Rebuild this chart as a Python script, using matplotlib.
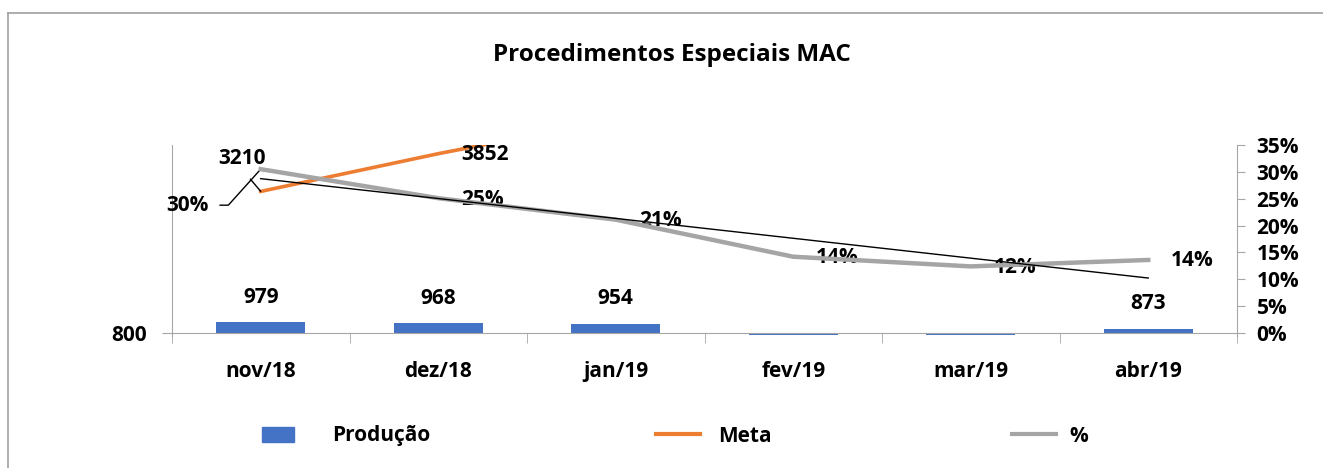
import numpy as np
import matplotlib
matplotlib.use("Agg")
import matplotlib.pyplot as plt
from matplotlib.patches import Patch
from matplotlib.lines import Line2D

plt.rcParams['font.family'] = ['Open Sans', 'DejaVu Sans']
plt.rcParams['font.weight'] = 'bold'

meses = ["nov/18", "dez/18", "jan/19", "fev/19", "mar/19", "abr/19"]
producao = [979, 968, 954, 760, 760, 873]
producao_rotulo = [True, True, True, False, False, True]
meta = [3210, 3852, 4440]
pct = [0.305, 0.251, 0.211, 0.142, 0.124, 0.136]

azul = "#4472C4"
laranja = "#ED7D31"
cinza = "#A5A5A5"
eixo = "#A6A6A6"
fs = 15

W, H = 1323, 468
fig = plt.figure(figsize=(W / 100, H / 100), dpi=100)

# area do grafico em pixels
x0, x1 = 172, 1237
y_top, y_base, y_bot = 145, 333, 336
ax = fig.add_axes([x0 / W, 1 - y_bot / H, (x1 - x0) / W, (y_bot - y_top) / H])
ax2 = ax.twinx()

# escalas: 800 e 0% na linha de base
esq_min, esq_max = 800, 4000
k1 = (esq_max - esq_min) / (y_base - y_top)
ax.set_ylim(esq_min - (y_bot - y_base) * k1, esq_max)
dir_max = 0.35
k2 = dir_max / (y_base - y_top)
ax2.set_ylim(-(y_bot - y_base) * k2, dir_max)

x = np.arange(len(meses))
ax.set_xlim(-0.5, len(meses) - 0.5)

ax.bar(x, np.array(producao) - esq_min, bottom=esq_min, width=0.5, color=azul, zorder=2)
for xi, v, show in zip(x, producao, producao_rotulo):
    if show:
        ax.annotate(str(v), (xi, v), xytext=(0, 25), textcoords='offset pixels',
                    ha='center', va='center', fontsize=fs, fontweight='bold')

ax.plot(x[:len(meta)], meta, color=laranja, lw=2.6, zorder=3)

ax2.plot(x, pct, color=cinza, lw=3.2, zorder=4)
coef = np.polyfit(x, pct, 1)
ax2.plot(x, np.polyval(coef, x), color='black', lw=1, zorder=5)

# rotulos da meta
ax.annotate(str(meta[0]), (x[0], meta[0]), xytext=(-19, 33), textcoords='offset pixels',
            ha='center', va='center', fontsize=fs, fontweight='bold',
            arrowprops=dict(arrowstyle='-', color='black', lw=1, relpos=(0.5, 0),
                            shrinkA=7, shrinkB=0))
ax.annotate(str(meta[1]), (x[1], meta[1]), xytext=(23, -1), textcoords='offset pixels',
            ha='left', va='center', fontsize=fs, fontweight='bold')

# rotulos do %
ax2.annotate(f"{pct[0]*100:.0f}%", (x[0], pct[0]), xytext=(-52, -36), textcoords='offset pixels',
             ha='right', va='center', fontsize=fs, fontweight='bold',
             arrowprops=dict(arrowstyle='-', color='black', lw=1,
                             connectionstyle='angle,angleA=0,angleB=48,rad=0',
                             shrinkA=6, shrinkB=0))
for xi, p in list(zip(x, pct))[1:]:
    ax2.annotate(f"{p*100:.0f}%", (xi, p), xytext=(23, -1), textcoords='offset pixels',
                 ha='left', va='center', fontsize=fs, fontweight='bold')

# eixos
ax.spines['top'].set_visible(False)
ax2.spines['top'].set_visible(False)
ax.spines['bottom'].set_position(('data', esq_min))
ax.spines['bottom'].set_color(eixo)
ax.spines['left'].set_color(eixo)
ax.spines['right'].set_visible(False)
ax2.spines['left'].set_visible(False)
ax2.spines['bottom'].set_visible(False)
ax2.spines['right'].set_color(eixo)

ax.set_xticks(x)
ax.set_xticklabels(meses, fontsize=fs, fontweight='bold')
ax.set_xticks(np.arange(len(meses) + 1) - 0.5, minor=True)
ax.tick_params(axis='x', which='major', length=0, pad=20.5)
ax.tick_params(axis='x', which='minor', length=7, color=eixo)

ax.set_yticks([esq_min])
ax.set_yticklabels([str(esq_min)], fontsize=fs, fontweight='bold')
ax.tick_params(axis='y', length=7, color=eixo, pad=11)

ax2.set_yticks(np.arange(0, 0.351, 0.05))
ax2.set_yticklabels([f"{v*100:.0f}%" for v in np.arange(0, 0.351, 0.05)], fontsize=fs, fontweight='bold')
ax2.tick_params(axis='y', length=6, color=eixo, pad=8)

fig.text(0.508, 1 - 55 / H, "Procedimentos Especiais MAC", ha='center', va='center',
         fontsize=17.5, fontweight='bold')

# legenda: uma entrada por bloco para acertar as posicoes
px = fs * 100 / 72
ly = 1 - 436 / H
entradas = [
    (Patch(color=azul), "Produção", 262, 32, 38),
    (Line2D([], [], color=laranja, lw=3), "Meta", 656, 44, 18),
    (Line2D([], [], color=cinza, lw=3), "%", 1012, 44, 13),
]
for h, txt, xl, hl, pad in entradas:
    fig.legend([h], [txt], loc='center left', bbox_to_anchor=(xl / W, ly),
               frameon=False, borderpad=0, borderaxespad=0,
               handlelength=hl / px, handletextpad=pad / px,
               prop={'weight': 'bold', 'size': fs})

# moldura do grafico (so topo e esquerda aparecem)
fig.add_artist(Line2D([8 / W, 1], [1 - 13 / H, 1 - 13 / H], transform=fig.transFigure,
                      color='#A0A0A0', lw=1.2))
fig.add_artist(Line2D([8 / W, 8 / W], [0, 1 - 13 / H], transform=fig.transFigure,
                      color='#A0A0A0', lw=1.2))

fig.savefig("out.png", dpi=100)
